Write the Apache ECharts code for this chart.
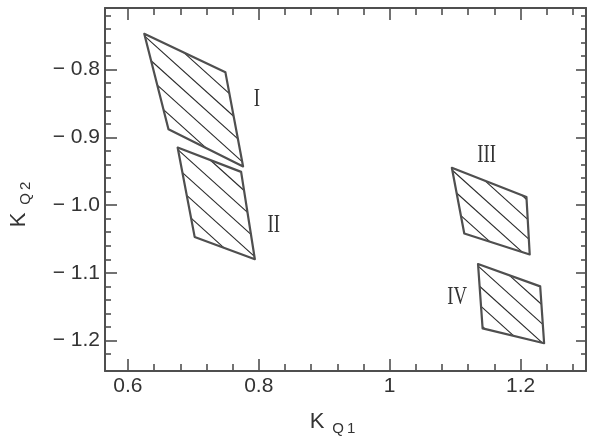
<!DOCTYPE html>
<html>
<head>
<meta charset="utf-8">
<script src="https://cdn.jsdelivr.net/npm/echarts@6/dist/echarts.min.js"></script>
<style>
  html, body { margin: 0; padding: 0; background: #fff; }
  #chart { width: 594px; height: 441px; }
</style>
</head>
<body>
<div id="chart"></div>
<script>
// Parameter regions I–IV in the (K_Q1, K_Q2) plane; corners run clockwise from the top-left one
const regionNames = ['I', 'II', 'III', 'IV'];
const regionKQ1 = [
  [0.625, 0.749, 0.776, 0.662],
  [0.676, 0.773, 0.794, 0.702],
  [1.095, 1.209, 1.214, 1.114],
  [1.135, 1.230, 1.236, 1.142]
];
const regionKQ2 = [
  [-0.747, -0.804, -0.943, -0.888],
  [-0.915, -0.951, -1.080, -1.047],
  [-0.945, -0.988, -1.073, -1.042],
  [-1.087, -1.120, -1.204, -1.182]
];
// Anchor of each region's numeral
const labelKQ1 = [0.797, 0.823, 1.148, 1.103];
const labelKQ2 = [-0.844, -1.030, -0.927, -1.137];

// Axis ticks
const xMajorTicks = [0.6, 0.8, 1.0, 1.2];
const xTickLabels = ['0.6', '0.8', '1', '1.2'];
const xMinorTicks = [0.64, 0.68, 0.72, 0.76, 0.84, 0.88, 0.92, 0.96, 1.04, 1.08, 1.12, 1.16, 1.24, 1.28];
const yMajorTicks = [-0.8, -0.9, -1.0, -1.1, -1.2];
const yTickLabels = ['\u2212 0.8', '\u2212 0.9', '\u2212 1.0', '\u2212 1.1', '\u2212 1.2'];
const yMinorTicks = [-0.72, -0.74, -0.76, -0.78, -0.82, -0.84, -0.86, -0.88, -0.92, -0.94, -0.96, -0.98,
  -1.02, -1.04, -1.06, -1.08, -1.12, -1.14, -1.16, -1.18, -1.22];

const X_MIN = 0.565, X_MAX = 1.3;
const Y_MIN = -1.245, Y_MAX = -0.709;

const INK = '#333';
const FRAME = '#4f4f4f';
const HATCH_ANGLE = 42;   // degrees, running down to the right
const HATCH_GAP = 14;     // px between hatch lines

function labelFor(values, labels) {
  return function (v) {
    for (let i = 0; i < values.length; i++) {
      if (Math.abs(values[i] - v) < 1e-9) return labels[i];
    }
    return '';
  };
}

function makeAxis(dim, position, ticks, tickLen, opts) {
  const isX = dim === 'x';
  return {
    type: 'value',
    position: position,
    min: isX ? X_MIN : Y_MIN,
    max: isX ? X_MAX : Y_MAX,
    splitLine: { show: false },
    axisLine: { show: !!opts.line, onZero: false, lineStyle: { color: FRAME, width: 2 } },
    axisTick: {
      show: true, inside: true, length: tickLen, customValues: ticks,
      lineStyle: { color: FRAME, width: 1.6 }
    },
    axisLabel: opts.labels ? {
      show: true, customValues: ticks, margin: isX ? 5 : 5,
      formatter: labelFor(ticks, opts.labels),
      color: INK, fontFamily: 'Liberation Sans', fontSize: 21
    } : { show: false },
    name: opts.name || '',
    nameLocation: 'middle',
    nameGap: opts.nameGap || 0,
    nameRotate: opts.nameRotate,
    nameTextStyle: opts.nameStyle
  };
}

const subscriptRich = {
  k: { fontFamily: 'Liberation Sans', fontSize: 22, color: INK, padding: [0, 0, 3, 0], verticalAlign: 'bottom' },
  s: { fontFamily: 'Liberation Sans', fontSize: 15, color: INK, padding: [0, 0, 0, 8], verticalAlign: 'bottom' },
  n: { fontFamily: 'Liberation Sans', fontSize: 15, color: INK, padding: [0, 0, 0, 3], verticalAlign: 'bottom' }
};

const regionRows = regionNames.map((name, r) => {
  const row = [];
  for (let i = 0; i < 4; i++) row.push(regionKQ1[r][i], regionKQ2[r][i]);
  row.push(labelKQ1[r], labelKQ2[r]);
  return row;
});

function renderRegion(params, api) {
  const pts = [];
  for (let i = 0; i < 4; i++) pts.push(api.coord([api.value(2 * i), api.value(2 * i + 1)]));
  const anchor = api.coord([api.value(8), api.value(9)]);
  const children = [];

  // diagonal hatching clipped to the quadrilateral
  const a = HATCH_ANGLE * Math.PI / 180;
  const nx = -Math.sin(a), ny = Math.cos(a);
  const s = pts.map(p => p[0] * nx + p[1] * ny);
  const sMin = Math.min.apply(null, s), sMax = Math.max.apply(null, s);
  const base = s[0] + 1.5;
  let v = base + Math.ceil((sMin - base) / HATCH_GAP) * HATCH_GAP;
  for (; v < sMax; v += HATCH_GAP) {
    const hits = [];
    for (let i = 0; i < 4; i++) {
      const j = (i + 1) % 4;
      if ((s[i] - v) * (s[j] - v) < 0) {
        const t = (v - s[i]) / (s[j] - s[i]);
        hits.push([pts[i][0] + (pts[j][0] - pts[i][0]) * t, pts[i][1] + (pts[j][1] - pts[i][1]) * t]);
      }
    }
    if (hits.length >= 2) {
      children.push({
        type: 'line',
        shape: { x1: hits[0][0], y1: hits[0][1], x2: hits[1][0], y2: hits[1][1] },
        style: { stroke: '#2a2a2a', lineWidth: 1.1 }
      });
    }
  }

  children.push({
    type: 'polygon',
    shape: { points: pts },
    style: { fill: null, stroke: FRAME, lineWidth: 2.2, lineJoin: 'round' }
  });

  children.push({
    type: 'text',
    x: anchor[0], y: anchor[1],
    scaleX: 0.75,
    style: {
      text: regionNames[params.dataIndex],
      fontFamily: 'Liberation Serif', fontSize: 25,
      fill: INK, align: 'center', verticalAlign: 'middle'
    }
  });

  return { type: 'group', children: children };
}

const chart = echarts.init(document.getElementById('chart'), null, { renderer: 'canvas' });
chart.setOption({
  backgroundColor: '#fff',
  animation: false,
  grid: { left: 102, right: 8, top: 8, bottom: 58, containLabel: false },
  xAxis: [
    makeAxis('x', 'bottom', xMajorTicks, 12, {
      line: true, labels: xTickLabels,
      name: '{k|K}{s|Q}{n|1}', nameGap: 40,
      nameStyle: { rich: subscriptRich, padding: [0, 26, 0, 0] }
    }),
    makeAxis('x', 'bottom', xMinorTicks, 7, {}),
    makeAxis('x', 'top', xMajorTicks, 12, { line: true }),
    makeAxis('x', 'top', xMinorTicks, 7, {})
  ],
  yAxis: [
    makeAxis('y', 'left', yMajorTicks, 12, {
      line: true, labels: yTickLabels,
      name: '{k|K}{s|Q}{n|2}', nameGap: 72, nameRotate: 90,
      nameStyle: { rich: subscriptRich, padding: [0, 30, 0, 0] }
    }),
    makeAxis('y', 'left', yMinorTicks, 6, {}),
    makeAxis('y', 'right', yMajorTicks, 10, { line: true }),
    makeAxis('y', 'right', yMinorTicks, 5, {})
  ],
  series: [{
    type: 'custom',
    xAxisIndex: 0,
    yAxisIndex: 0,
    renderItem: renderRegion,
    encode: { x: [0, 2, 4, 6], y: [1, 3, 5, 7] },
    data: regionRows,
    silent: true
  }]
});
</script>
</body>
</html>
